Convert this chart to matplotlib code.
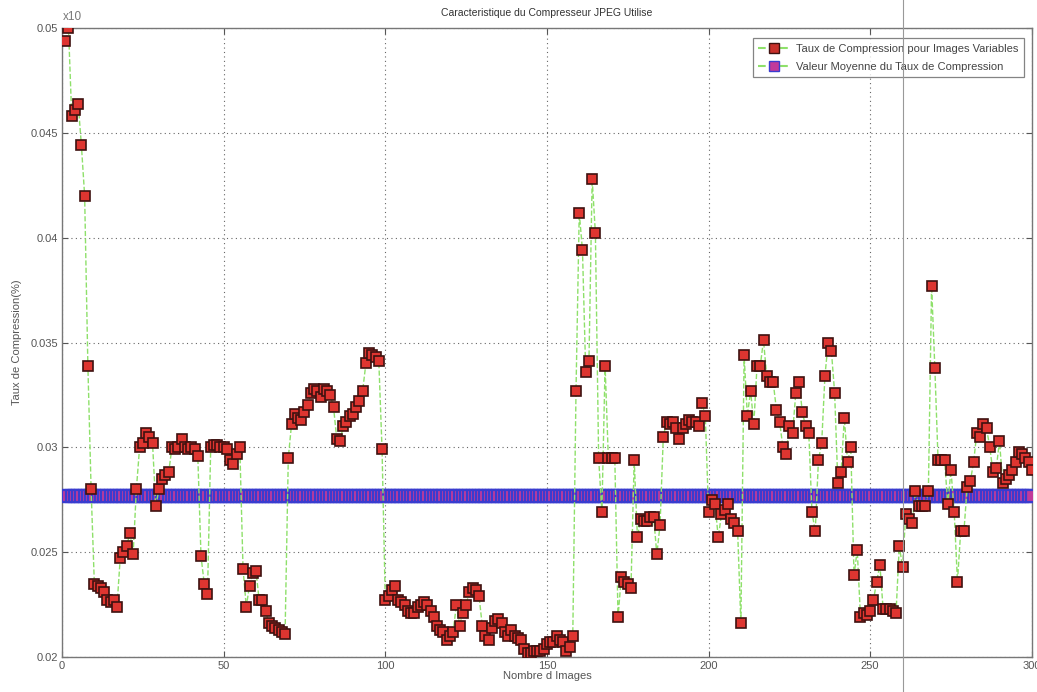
import numpy as np
import matplotlib
matplotlib.use("Agg")
import matplotlib.pyplot as plt
from matplotlib.lines import Line2D

plt.rcParams['font.family'] = ['Liberation Sans', 'DejaVu Sans']

# Compression rate per image (images 1..300)
rates_001_050 = [
    0.0494, 0.0500, 0.0458, 0.0461, 0.0464, 0.0444, 0.0420, 0.0339, 0.0280, 0.0235,
    0.0234, 0.0233, 0.0231, 0.0227, 0.0226, 0.0227, 0.0224, 0.0247, 0.0250, 0.0253,
    0.0259, 0.0249, 0.0280, 0.0300, 0.0302, 0.0307, 0.0305, 0.0302, 0.0272, 0.0280,
    0.0285, 0.0287, 0.0288, 0.0300, 0.0299, 0.0300, 0.0304, 0.0300, 0.0299, 0.0300,
    0.0299, 0.0296, 0.0248, 0.0235, 0.0230, 0.0300, 0.0301, 0.0301, 0.0300, 0.0300,
]
rates_051_100 = [
    0.0299, 0.0294, 0.0292, 0.0297, 0.0300, 0.0242, 0.0224, 0.0234, 0.0240, 0.0241,
    0.0227, 0.0227, 0.0222, 0.0216, 0.0215, 0.0214, 0.0213, 0.0212, 0.0211, 0.0295,
    0.0311, 0.0316, 0.0314, 0.0313, 0.0317, 0.0320, 0.0326, 0.0328, 0.0327, 0.0324,
    0.0328, 0.0327, 0.0325, 0.0319, 0.0304, 0.0303, 0.0310, 0.0312, 0.0315, 0.0316,
    0.0319, 0.0322, 0.0327, 0.0340, 0.0345, 0.0344, 0.0343, 0.0341, 0.0299, 0.0227,
]
rates_101_150 = [
    0.0229, 0.0232, 0.0234, 0.0227, 0.0226, 0.0225, 0.0222, 0.0221, 0.0221, 0.0224,
    0.0225, 0.0226, 0.0225, 0.0222, 0.0219, 0.0215, 0.0213, 0.0212, 0.0208, 0.0210,
    0.0212, 0.0225, 0.0215, 0.0221, 0.0225, 0.0231, 0.0233, 0.0232, 0.0229, 0.0215,
    0.0210, 0.0208, 0.0214, 0.0217, 0.0218, 0.0216, 0.0212, 0.0210, 0.0213, 0.0210,
    0.0209, 0.0208, 0.0204, 0.0202, 0.0202, 0.0203, 0.0203, 0.0203, 0.0204, 0.0206,
]
rates_151_200 = [
    0.0207, 0.0207, 0.0210, 0.0208, 0.0207, 0.0203, 0.0205, 0.0210, 0.0327, 0.0412,
    0.0394, 0.0336, 0.0341, 0.0428, 0.0402, 0.0295, 0.0269, 0.0339, 0.0295, 0.0295,
    0.0295, 0.0219, 0.0238, 0.0236, 0.0235, 0.0233, 0.0294, 0.0257, 0.0266, 0.0265,
    0.0265, 0.0267, 0.0267, 0.0249, 0.0263, 0.0305, 0.0312, 0.0311, 0.0312, 0.0309,
    0.0304, 0.0309, 0.0311, 0.0313, 0.0312, 0.0312, 0.0310, 0.0321, 0.0315, 0.0269,
]
rates_201_250 = [
    0.0275, 0.0273, 0.0257, 0.0268, 0.0270, 0.0273, 0.0266, 0.0264, 0.0260, 0.0216,
    0.0344, 0.0315, 0.0327, 0.0311, 0.0339, 0.0339, 0.0351, 0.0334, 0.0331, 0.0331,
    0.0318, 0.0312, 0.0300, 0.0297, 0.0310, 0.0307, 0.0326, 0.0331, 0.0317, 0.0310,
    0.0307, 0.0269, 0.0260, 0.0294, 0.0302, 0.0334, 0.0350, 0.0346, 0.0326, 0.0283,
    0.0288, 0.0314, 0.0293, 0.0300, 0.0239, 0.0251, 0.0219, 0.0221, 0.0220, 0.0222,
]
rates_251_300 = [
    0.0227, 0.0236, 0.0244, 0.0223, 0.0223, 0.0223, 0.0222, 0.0221, 0.0253, 0.0243,
    0.0268, 0.0266, 0.0264, 0.0279, 0.0272, 0.0272, 0.0272, 0.0279, 0.0377, 0.0338,
    0.0294, 0.0294, 0.0294, 0.0273, 0.0289, 0.0269, 0.0236, 0.0260, 0.0260, 0.0281,
    0.0284, 0.0293, 0.0307, 0.0305, 0.0311, 0.0309, 0.0300, 0.0288, 0.0290, 0.0303,
    0.0283, 0.0285, 0.0287, 0.0289, 0.0293, 0.0298, 0.0297, 0.0295, 0.0293, 0.0289,
]
rates = (rates_001_050 + rates_051_100 + rates_101_150
         + rates_151_200 + rates_201_250 + rates_251_300)
images = list(range(1, len(rates) + 1))

mean_rate = 0.0277

x_ticks = [0, 50, 100, 150, 200, 250, 300]
y_ticks = [0.02, 0.025, 0.03, 0.035, 0.04, 0.045, 0.05]
y_tick_labels = ["0.02", "0.025", "0.03", "0.035", "0.04", "0.045", "0.05"]

series_label = "Taux de Compression pour Images Variables"
mean_label = "Valeur Moyenne du Taux de Compression"
title = "Caracteristique du Compresseur JPEG Utilise"
x_label = "Nombre d Images"
y_label = "Taux de Compression(%)"

fig = plt.figure(figsize=(10.37, 6.92), dpi=100)
ax = fig.add_axes([0.0598, 0.0506, 0.9352, 0.9089])

green = "#8ee06a"
ax.plot(images, [mean_rate] * len(images), linestyle="--", color=green, lw=1.0,
        marker="s", markersize=8.4, markerfacecolor="#c23a9a",
        markeredgecolor="#3a3ccf", markeredgewidth=1.6, zorder=3)
ax.plot(images, rates, linestyle="--", color=green, lw=1.0,
        marker="s", markersize=6.9, markerfacecolor="#de3530",
        markeredgecolor="#3e1210", markeredgewidth=1.2, zorder=4)

ax.set_xlim(0, 300)
ax.set_ylim(0.02, 0.05)
ax.set_xticks(x_ticks)
ax.set_yticks(y_ticks)
ax.set_yticklabels(y_tick_labels)
ax.tick_params(direction="in", length=4, labelsize=8, colors="#555555",
               top=True, right=True, pad=3)
ax.grid(True, linestyle=(0, (1, 3)), color="#666666", lw=0.8)
for sp in ax.spines.values():
    sp.set_color("#777777")
    sp.set_linewidth(1.0)

ax.set_title(title, fontsize=7.5, color="#333333", pad=9)
ax.set_xlabel(x_label, fontsize=8, color="#555555", labelpad=0)
ax.set_ylabel(y_label, fontsize=8, color="#555555", labelpad=6)
fig.text(0.061, 0.975, "x10", fontsize=8.5, color="#777777", ha="left", va="center")

handles = [
    Line2D([], [], linestyle="--", color=green, marker="s", markersize=7.5,
           markerfacecolor="#c8302a", markeredgecolor="#3e1210"),
    Line2D([], [], linestyle="--", color=green, marker="s", markersize=7.5,
           markerfacecolor="#c23a9a", markeredgecolor="#3a3ccf"),
]
leg = ax.legend(handles, [series_label, mean_label], loc="upper right",
                bbox_to_anchor=(0.9955, 0.989), fontsize=8, handlelength=2.8,
                frameon=True, fancybox=False, borderpad=0.5, labelspacing=0.7,
                handletextpad=0.6, borderaxespad=0.3)
leg.get_frame().set_edgecolor("#666666")
leg.get_frame().set_linewidth(0.9)
for t in leg.get_texts():
    t.set_color("#444444")

# thin vertical rule running down the page
fig.add_artist(Line2D([0.871, 0.871], [0.0, 1.0], transform=fig.transFigure,
                      color="#999999", lw=0.8, zorder=10))

fig.savefig("out.png", dpi=100)
